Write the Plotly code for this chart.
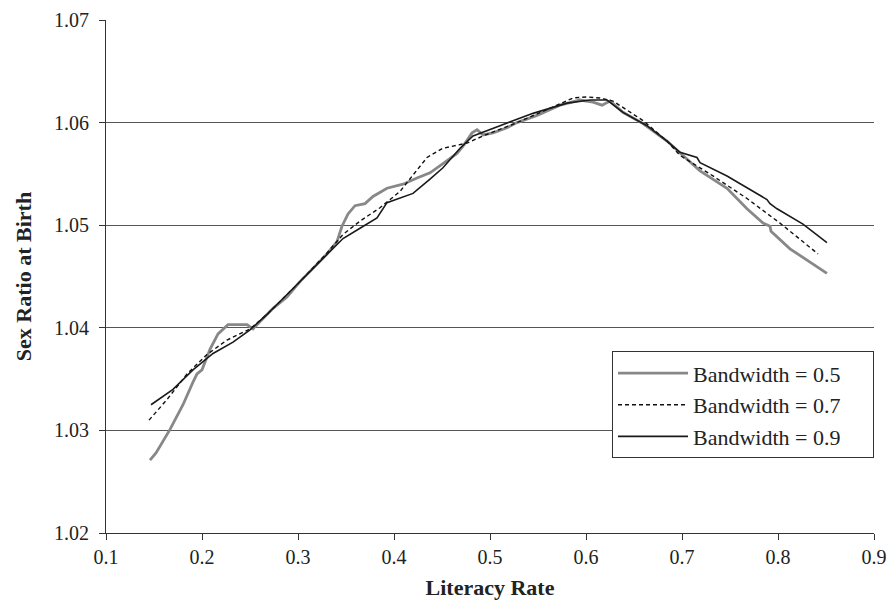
import plotly.graph_objects as go

# Bandwidth = 0.5 (gray)
x_bw05 = [0.1458, 0.1521, 0.1667, 0.1802, 0.1906, 0.1948, 0.2000, 0.2083, 0.2167, 0.2271,
          0.2469, 0.2531, 0.2677, 0.2740, 0.2885, 0.3021, 0.3229, 0.3302, 0.3406, 0.3458,
          0.3521, 0.3594, 0.3698, 0.3781, 0.3927, 0.4094, 0.4240, 0.4375, 0.4510, 0.4656,
          0.4719, 0.4813, 0.4865, 0.4927, 0.5031, 0.5177, 0.5281, 0.5490, 0.5729, 0.5938,
          0.6073, 0.6167, 0.6250, 0.6385, 0.6594, 0.6844, 0.7010, 0.7188, 0.7469, 0.7677,
          0.7844, 0.7917, 0.7927, 0.8125, 0.8365, 0.8510]
y_bw05 = [1.0271, 1.0278, 1.0301, 1.0325, 1.0347, 1.0355, 1.0359, 1.0379, 1.0394, 1.0403,
          1.0403, 1.0399, 1.0413, 1.0419, 1.0430, 1.0445, 1.0465, 1.0472, 1.0484, 1.0499,
          1.0511, 1.0519, 1.0521, 1.0528, 1.0536, 1.0540, 1.0546, 1.0551, 1.0560, 1.0570,
          1.0577, 1.0590, 1.0593, 1.0588, 1.0590, 1.0595, 1.0600, 1.0607, 1.0617, 1.0622,
          1.0620, 1.0617, 1.0621, 1.0610, 1.0599, 1.0582, 1.0568, 1.0553, 1.0536, 1.0516,
          1.0502, 1.0499, 1.0494, 1.0477, 1.0462, 1.0453]

# Bandwidth = 0.7 (dashed)
x_bw07 = [0.1448, 0.1635, 0.1844, 0.2052, 0.2260, 0.2500, 0.2677, 0.3021, 0.3302, 0.3469,
          0.3646, 0.3854, 0.4063, 0.4198, 0.4344, 0.4510, 0.4656, 0.4760, 0.4927, 0.5281,
          0.5625, 0.5865, 0.6010, 0.6146, 0.6281, 0.6458, 0.6594, 0.6844, 0.6979, 0.7323,
          0.7677, 0.8021, 0.8417]
y_bw07 = [1.0310, 1.0330, 1.0355, 1.0374, 1.0388, 1.0399, 1.0413, 1.0445, 1.0473, 1.0491,
          1.0504, 1.0517, 1.0533, 1.0549, 1.0566, 1.0575, 1.0578, 1.0580, 1.0587, 1.0600,
          1.0614, 1.0624, 1.0625, 1.0624, 1.0621, 1.0610, 1.0602, 1.0582, 1.0568, 1.0548,
          1.0526, 1.0502, 1.0472]

# Bandwidth = 0.9 (solid black)
x_bw09 = [0.1469, 0.1698, 0.1906, 0.2115, 0.2323, 0.2500, 0.2677, 0.3021, 0.3302, 0.3469,
          0.3646, 0.3823, 0.3927, 0.3990, 0.4198, 0.4375, 0.4510, 0.4688, 0.4823, 0.5104,
          0.5448, 0.5802, 0.6042, 0.6219, 0.6385, 0.6635, 0.6844, 0.6979, 0.7156, 0.7188,
          0.7469, 0.7885, 0.7917, 0.7990, 0.8156, 0.8260, 0.8510]
y_bw09 = [1.0325, 1.0340, 1.0359, 1.0375, 1.0386, 1.0398, 1.0413, 1.0445, 1.0472, 1.0487,
          1.0497, 1.0507, 1.0522, 1.0524, 1.0531, 1.0545, 1.0556, 1.0575, 1.0587, 1.0597,
          1.0609, 1.0619, 1.0622, 1.0622, 1.0610, 1.0597, 1.0582, 1.0571, 1.0566, 1.0561,
          1.0548, 1.0525, 1.0521, 1.0516, 1.0507, 1.0501, 1.0483]

series_names = ["Bandwidth = 0.5", "Bandwidth = 0.7", "Bandwidth = 0.9"]

x_ticks = [0.1, 0.2, 0.3, 0.4, 0.5, 0.6, 0.7, 0.8, 0.9]
y_ticks = [1.02, 1.03, 1.04, 1.05, 1.06, 1.07]

FONT = "Liberation Serif"
PAD = "\u00a0" * 5  # right padding inside the legend box

fig = go.Figure()
fig.add_trace(go.Scatter(x=x_bw05, y=y_bw05, mode="lines", name=series_names[0] + PAD,
                         line=dict(color="#888888", width=2.8)))
fig.add_trace(go.Scatter(x=x_bw07, y=y_bw07, mode="lines", name=series_names[1] + PAD,
                         line=dict(color="#111111", width=1.4, dash="4px,3px")))
fig.add_trace(go.Scatter(x=x_bw09, y=y_bw09, mode="lines", name=series_names[2] + PAD,
                         line=dict(color="#1a1a1a", width=1.6)))

fig.update_layout(
    width=888, height=600,
    margin=dict(l=106, r=14, t=20, b=67, autoexpand=False),
    paper_bgcolor="white", plot_bgcolor="white",
    font=dict(family=FONT, size=20, color="#222222"),
    showlegend=True,
    legend=dict(x=1.0, xanchor="right", y=0.354, yanchor="top",
                bgcolor="white", bordercolor="#333333", borderwidth=1,
                font=dict(family=FONT, size=22, color="#222222"),
                itemwidth=70),
    xaxis=dict(range=[0.1, 0.9], tickvals=x_ticks, ticktext=[f"{v:.1f}" for v in x_ticks],
               showgrid=False, zeroline=False, showline=True, linecolor="#333333", linewidth=1,
               ticks="outside", ticklen=6, tickcolor="#333333",
               tickfont=dict(family=FONT, size=20),
               title=dict(text="<b>Literacy Rate</b>", font=dict(family=FONT, size=22), standoff=16)),
    yaxis=dict(range=[1.02, 1.07], tickvals=y_ticks, ticktext=[f"{v:.2f}" for v in y_ticks],
               showgrid=True, gridcolor="#555555", gridwidth=1, zeroline=False,
               showline=True, linecolor="#333333", linewidth=1,
               ticks="outside", ticklen=6, tickcolor="#333333",
               tickfont=dict(family=FONT, size=20), ticklabelstandoff=6,
               title=dict(text="<b>Sex Ratio at Birth</b>", font=dict(family=FONT, size=22), standoff=16)),
)

fig.write_html("out.html", config={"displayModeBar": False},
               post_script="document.body.style.margin='0';")
